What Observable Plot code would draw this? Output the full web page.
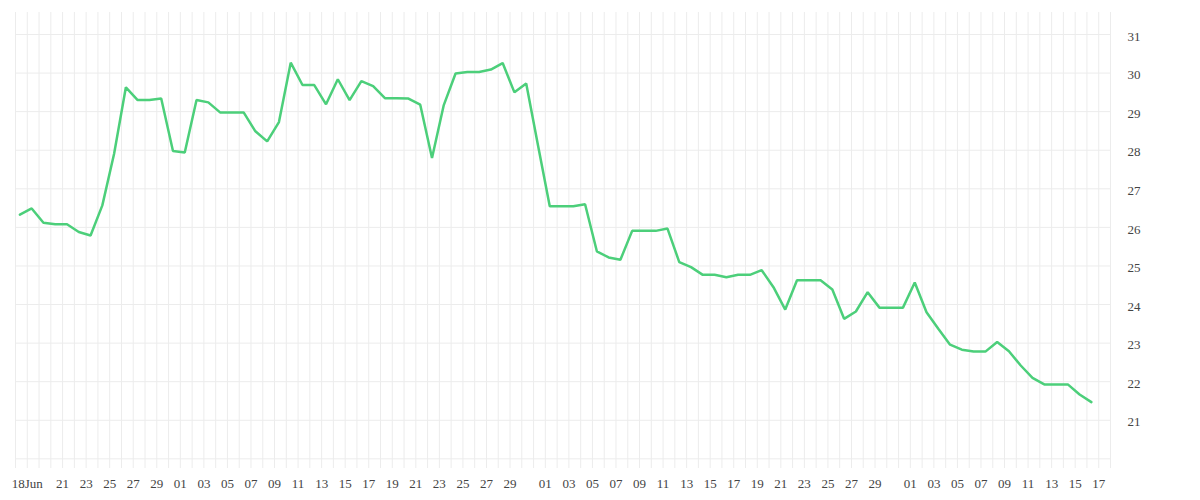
<!DOCTYPE html>
<html>
<head>
<meta charset="utf-8">
<script src="https://cdn.jsdelivr.net/npm/d3@7"></script>
<script src="https://cdn.jsdelivr.net/npm/@observablehq/plot@0.6"></script>
<style>
  html, body { margin: 0; padding: 0; background: #fff; }
</style>
</head>
<body>
<div id="chart"></div>
<script>
// Series start (first daily observation) and daily values
const startDate = "2023-06-17T09:00";
const values = [
  26.33, 26.49, 26.12, 26.08, 26.08, 25.88, 25.79, 26.57, 27.91, 29.63,
  29.30, 29.30, 29.34, 27.98, 27.94, 29.30, 29.24, 28.98, 28.98, 28.98,
  28.49, 28.23, 28.73, 30.27, 29.69, 29.69, 29.19, 29.84, 29.30, 29.79,
  29.66, 29.35, 29.35, 29.34, 29.18, 27.80, 29.17, 29.99, 30.03, 30.03,
  30.09, 30.26, 29.50, 29.73, 28.13, 26.55, 26.55, 26.55, 26.60, 25.38,
  25.22, 25.16, 25.91, 25.91, 25.91, 25.97, 25.10, 24.97, 24.77, 24.77,
  24.71, 24.77, 24.77, 24.89, 24.45, 23.87, 24.63, 24.63, 24.63, 24.39,
  23.63, 23.82, 24.32, 23.92, 23.92, 23.92, 24.57, 23.80, 23.37, 22.96,
  22.83, 22.78, 22.78, 23.03, 22.79, 22.42, 22.10, 21.93, 21.93, 21.93,
  21.67, 21.47
];

// Axis extents and ticks
const xDomain = ["2023-06-17", "2023-09-18"];
const xTicks = [
  "2023-06-18", "2023-06-21", "2023-06-23", "2023-06-25", "2023-06-27", "2023-06-29",
  "2023-07-01", "2023-07-03", "2023-07-05", "2023-07-07", "2023-07-09", "2023-07-11",
  "2023-07-13", "2023-07-15", "2023-07-17", "2023-07-19", "2023-07-21", "2023-07-23",
  "2023-07-25", "2023-07-27", "2023-07-29",
  "2023-08-01", "2023-08-03", "2023-08-05", "2023-08-07", "2023-08-09", "2023-08-11",
  "2023-08-13", "2023-08-15", "2023-08-17", "2023-08-19", "2023-08-21", "2023-08-23",
  "2023-08-25", "2023-08-27", "2023-08-29",
  "2023-09-01", "2023-09-03", "2023-09-05", "2023-09-07", "2023-09-09", "2023-09-11",
  "2023-09-13", "2023-09-15", "2023-09-17"
];
const firstTickLabel = "18Jun";
const yDomain = [19.75, 31.57];
const yTicks = [21, 22, 23, 24, 25, 26, 27, 28, 29, 30, 31];
const yGrid = [20, 21, 22, 23, 24, 25, 26, 27, 28, 29, 30, 31];

const parse = s => new Date(s.length > 10 ? s : s + "T00:00");
const start = parse(startDate);
const data = values.map((v, i) => ({date: d3.timeDay.offset(start, i), value: v}));
const tickDates = xTicks.map(parse);
const firstTickTime = tickDates[0].getTime();
const dayGrid = d3.timeDay.range(parse(xDomain[0]), d3.timeDay.offset(parse(xDomain[1]), 1));

const gridColor = "#ececec";
const textColor = "#444";

const chart = Plot.plot({
  width: 1200,
  height: 500,
  marginTop: 12,
  marginBottom: 32,
  marginLeft: 15,
  marginRight: 90,
  style: {fontFamily: "'Liberation Serif', serif", fontSize: "13px", color: textColor, background: "#fff"},
  x: {type: "time", domain: xDomain.map(parse)},
  y: {domain: yDomain},
  marks: [
    Plot.ruleX(dayGrid, {x: d => d, stroke: gridColor, strokeWidth: 1}),
    Plot.ruleY(yGrid, {y: d => d, stroke: gridColor, strokeWidth: 1}),
    Plot.axisX(tickDates, {
      tickSize: 0,
      tickPadding: 10,
      tickFormat: d => d.getTime() === firstTickTime ? firstTickLabel : d3.timeFormat("%d")(d),
      label: null,
      fill: textColor,
      fontSize: 13
    }),
    Plot.axisY(yTicks, {
      anchor: "right",
      tickSize: 0,
      tickPadding: 17,
      label: null,
      fill: textColor,
      fontSize: 13,
      dy: 2
    }),
    Plot.line(data, {x: "date", y: "value", stroke: "#4ccf7a", strokeWidth: 2.5, strokeLinejoin: "miter"})
  ]
});
document.getElementById("chart").appendChild(chart);
</script>
</body>
</html>
